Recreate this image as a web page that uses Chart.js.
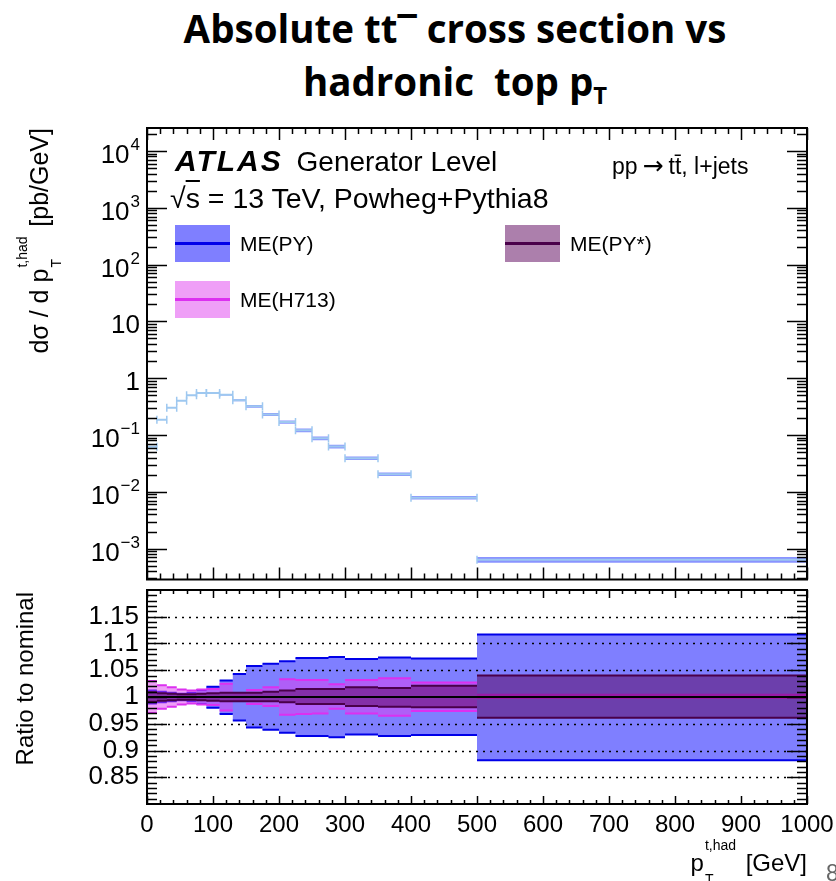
<!DOCTYPE html>
<html>
<head>
<meta charset="utf-8">
<script src="https://cdn.jsdelivr.net/npm/chart.js@4.4.0/dist/chart.umd.min.js"></script>
<style>
  html, body { margin: 0; padding: 0; background: #fff; }
  #page { position: relative; width: 836px; height: 881px; overflow: hidden;
          font-family: "Liberation Sans", Arial, sans-serif; color: #000; }
  canvas { position: absolute; left: 0; }
  .t { position: absolute; white-space: nowrap; line-height: 1; }
  .rot { transform-origin: 0 0; transform: rotate(-90deg); text-align: right; }
  #title { position: absolute; left: 0; top: 2px; width: 910px; text-align: center;
           font-family: "Open Sans", Lato, sans-serif; font-weight: 700; font-size: 38.5px; line-height: 53px; }
  #title .tsub { font-size: 0.62em; position: relative; top: 0.35em; }
  #title .mac { position: relative; top: 0.12em; }
  .ss { display: inline-block; position: relative; width: 35px; height: 25px; }
  .ss .sp { position: absolute; left: 1px; top: -8px; font-size: 14px; line-height: 1; }
  .ss .sb { position: absolute; left: 1px; top: 26px; font-size: 14px; line-height: 1; }
  .lbox { position: absolute; width: 55px; height: 37px; }
  .lbox i { position: absolute; left: 0; right: 0; top: 17px; height: 3px; }
</style>
</head>
<body>
<div id="page">
  <div id="title">Absolute tt<span class="mac">¯</span> cross section vs<br>hadronic&nbsp; top p<span class="tsub">T</span></div>

  <canvas id="top" width="836" height="585" style="top:0;width:836px;height:585px"></canvas>
  <canvas id="ratio" width="836" height="296" style="top:585px;width:836px;height:296px"></canvas>

  <div class="t" style="left:175px;top:146px;font-size:28px"><b><i style="font-size:30px;letter-spacing:2px;margin-right:6px">ATLAS</i></b> Generator Level</div>
  <div class="t" style="left:612px;top:153px;font-size:23px">pp<span style="font-family:'DejaVu Sans';font-size:25px;margin:0 5px">→</span>tt̄, l+jets</div>
  <div class="t" style="left:170px;top:184px;font-size:28.5px">√<span style="text-decoration:overline">s</span> = 13 TeV, Powheg+Pythia8</div>
  <div id="legend"></div>

  <div class="t rot" style="left:23px;top:433px;width:305px;font-size:25px">dσ / d p<span class="ss"><span class="sp">t,had</span><span class="sb">T</span></span> [pb/GeV]</div>
  <div class="t rot" style="left:13px;top:892px;width:300px;font-size:24px">Ratio to nominal</div>
  <div class="t" style="left:507px;top:846px;width:300px;text-align:right;font-size:24px">p<span class="ss"><span class="sp">t,had</span><span class="sb">T</span></span> [GeV]</div>
  <div class="t" style="left:826px;top:862px;font-size:23px;color:#666">8</div>
</div>

<script>
// ---- data ----
const binEdges = [0, 15, 30, 45, 60, 75, 90, 110, 130, 150, 175, 200, 225, 250, 275, 300, 350, 400, 500, 1000];
const xsecNominal = [0.062, 0.186, 0.30, 0.40, 0.50, 0.55, 0.55, 0.51, 0.41, 0.32, 0.23, 0.169, 0.121, 0.0875, 0.0624, 0.039, 0.0204, 0.00785, 0.00064];

// ratio to nominal, upper / lower edge of each band
const pyHigh     = [1.012, 1.010, 1.008, 1.006, 1.008, 1.013, 1.019, 1.031, 1.043, 1.058, 1.062, 1.067, 1.073, 1.073, 1.075, 1.071, 1.074, 1.072, 1.117];
const pyLow      = [0.988, 0.990, 0.992, 0.994, 0.992, 0.987, 0.980, 0.968, 0.956, 0.943, 0.939, 0.933, 0.927, 0.927, 0.925, 0.930, 0.927, 0.929, 0.882];
const h713High   = [1.030, 1.022, 1.018, 1.014, 1.012, 1.014, 1.015, 1.025, 1.007, 1.013, 1.018, 1.033, 1.032, 1.032, 1.024, 1.032, 1.035, 1.027, 1.004];
const h713Low    = [0.970, 0.978, 0.982, 0.986, 0.988, 0.986, 0.985, 0.975, 0.993, 0.987, 0.983, 0.967, 0.968, 0.969, 0.978, 0.969, 0.965, 0.974, 0.998];
const pystarHigh = [1.009, 1.007, 1.006, 1.005, 1.005, 1.006, 1.007, 1.008, 1.008, 1.008, 1.010, 1.012, 1.015, 1.015, 1.015, 1.018, 1.017, 1.021, 1.040];
const pystarLow  = [0.991, 0.993, 0.994, 0.995, 0.995, 0.994, 0.993, 0.992, 0.992, 0.992, 0.992, 0.990, 0.987, 0.987, 0.987, 0.983, 0.982, 0.981, 0.961];
const ratioNominal = [1, 1, 1, 1, 1, 1, 1, 1, 1, 1, 1, 1, 1, 1, 1, 1, 1, 1, 1];

// axis ticks
const ptTicks = [0, 100, 200, 300, 400, 500, 600, 700, 800, 900, 1000];
const xsecTicks = [1e-3, 1e-2, 1e-1, 1, 10, 1e2, 1e3, 1e4];
const xsecTickBase = ['10', '10', '10', '1', '10', '10', '10', '10'];
const xsecTickExp  = ['−3', '−2', '−1', '', '', '2', '3', '4'];
const ratioTicks = [0.85, 0.9, 0.95, 1, 1.05, 1.1, 1.15];
const ratioTickLabels = ['0.85', '0.9', '0.95', '1', '1.05', '1.1', '1.15'];
const ratioDotted = [0.85, 0.9, 0.95, 1.05, 1.1, 1.15];

const seriesNames = ['ME(PY)', 'ME(PY*)', 'ME(H713)'];
const seriesFill  = ['rgba(0,0,255,0.5)', 'rgba(90,0,90,0.5)', 'rgba(224,64,240,0.5)'];
const seriesLine  = ['#0000e8', '#4a004a', '#dc30f0'];

const FONT = '"Liberation Sans", Arial, sans-serif';

// ---- helpers ----
function stepLine(vals) {                 // connected histogram outline
  const pts = [];
  vals.forEach((v, i) => pts.push({ x: binEdges[i], y: v }, { x: binEdges[i + 1], y: v }));
  return pts;
}
function binSegments(vals) {              // one flat segment per bin, gaps between
  const pts = [];
  vals.forEach((v, i) => pts.push({ x: binEdges[i], y: v }, { x: binEdges[i + 1], y: v }, { x: binEdges[i + 1], y: null }));
  return pts;
}
function bandSets(hi, lo, fill, line, order, edges) {
  const sets = [
    { data: stepLine(hi), backgroundColor: fill, borderWidth: 0, pointRadius: 0, fill: '+1', order },
    { data: stepLine(lo), borderWidth: 0, pointRadius: 0, fill: false, order }
  ];
  if (edges) {
    sets.push({ data: binSegments(hi), borderColor: line, borderWidth: 2, pointRadius: 0, fill: false, order: order - 1 });
    sets.push({ data: binSegments(lo), borderColor: line, borderWidth: 2, pointRadius: 0, fill: false, order: order - 1 });
  }
  return sets;
}

// ROOT-like frame with inside ticks
const frameTicks = {
  id: 'frameTicks',
  afterDatasetsDraw(chart, args, o) {
    const { ctx, chartArea: a } = chart;
    const xs = chart.scales.x, ys = chart.scales.y;
    ctx.save();
    ctx.strokeStyle = '#000';
    ctx.lineWidth = 1.4;
    ctx.setLineDash([2, 5]);
    (o.dotted || []).forEach(v => {
      const py = Math.round(ys.getPixelForValue(v)) + 0.5;
      ctx.beginPath(); ctx.moveTo(a.left, py); ctx.lineTo(a.right, py); ctx.stroke();
    });
    ctx.setLineDash([]);
    ctx.lineWidth = 1.5;
    for (let v = 0; v <= 1000; v += 20) {
      const major = v % 100 === 0;
      const len = major ? o.xMaj : o.xMin;
      const px = Math.round(xs.getPixelForValue(v)) + 0.5;
      ctx.beginPath();
      ctx.moveTo(px, a.bottom); ctx.lineTo(px, a.bottom - len);
      ctx.moveTo(px, a.top); ctx.lineTo(px, a.top + len);
      ctx.stroke();
    }
    o.yTicks.forEach(t => {
      const py = Math.round(ys.getPixelForValue(t.v)) + 0.5;
      if (py < a.top + 1 || py > a.bottom - 1) return;
      const len = t.major ? o.yMaj : o.yMin;
      ctx.beginPath();
      ctx.moveTo(a.left, py); ctx.lineTo(a.left + len, py);
      ctx.moveTo(a.right, py); ctx.lineTo(a.right - len, py);
      ctx.stroke();
    });
    ctx.lineWidth = 2;
    ctx.strokeRect(a.left, a.top, a.right - a.left, a.bottom - a.top);

    if (o.logLabels) {
      ctx.fillStyle = '#000';
      ctx.textBaseline = 'alphabetic';
      xsecTicks.forEach((v, i) => {
        const py = ys.getPixelForValue(v);
        const base = xsecTickBase[i], ex = xsecTickExp[i];
        let right = a.left - 7;
        if (ex) {
          ctx.font = '17px ' + FONT;
          ctx.textAlign = 'right';
          ctx.fillText(ex, right, py - 1);
          right -= ctx.measureText(ex).width + 1;
        }
        ctx.font = '26px ' + FONT;
        ctx.textAlign = 'right';
        ctx.fillText(base, right, py + 12);
      });
    }
    ctx.restore();
  }
};

// minor/major tick lists (axis decoration only)
const logTicks = [];
for (let d = -4; d <= 4; d++) for (let k = 1; k <= 9; k++) logTicks.push({ v: k * Math.pow(10, d), major: k === 1 });
const ratioMinor = [];
for (let k = 81; k <= 119; k++) ratioMinor.push({ v: k / 100, major: k % 5 === 0 });

// ---- top panel ----
new Chart(document.getElementById('top'), {
  type: 'line',
  data: {
    datasets: [
      { data: binSegments(xsecNominal), borderColor: '#9ec8f0', borderWidth: 2,
        pointStyle: 'line', rotation: 90, pointRadius: 4, pointBorderWidth: 1.5,
        pointBorderColor: '#9ec8f0', fill: false, order: 1 },
      ...bandSets(xsecNominal.map((v, i) => v * pyHigh[i]), xsecNominal.map((v, i) => v * pyLow[i]),
                  'rgba(20,40,255,0.5)', seriesLine[0], 5, false)
    ]
  },
  options: {
    responsive: false, animation: false,
    layout: { padding: { top: 128, bottom: 4, left: 0, right: 29 } },
    plugins: {
      legend: { display: false }, tooltip: { enabled: false },
      frameTicks: { xMaj: 12, xMin: 6, yMaj: 20, yMin: 10, yTicks: logTicks, logLabels: true }
    },
    scales: {
      x: { type: 'linear', min: 0, max: 1000, display: false },
      y: { type: 'logarithmic', min: 2.86e-4, max: 2.53e4,
           afterFit(s) { s.width = 147; s.paddingTop = 0; s.paddingBottom = 0; },
           ticks: { display: false }, grid: { display: false }, border: { display: false } }
    }
  },
  plugins: [frameTicks]
});

// ---- ratio panel ----
new Chart(document.getElementById('ratio'), {
  type: 'line',
  data: {
    datasets: [
      { data: stepLine(ratioNominal), borderColor: '#000', borderWidth: 2, pointRadius: 0, fill: false, order: 1 },
      ...bandSets(pyHigh, pyLow, seriesFill[0], seriesLine[0], 30, true),
      ...bandSets(h713High, h713Low, seriesFill[2], seriesLine[2], 20, true),
      ...bandSets(pystarHigh, pystarLow, seriesFill[1], seriesLine[1], 10, true)
    ]
  },
  options: {
    responsive: false, animation: false,
    layout: { padding: { top: 5, bottom: 0, left: 0, right: 29 } },
    plugins: {
      legend: { display: false }, tooltip: { enabled: false },
      frameTicks: { xMaj: 8, xMin: 4, yMaj: 20, yMin: 10, yTicks: ratioMinor, dotted: ratioDotted }
    },
    scales: {
      x: { type: 'linear', min: 0, max: 1000,
           afterBuildTicks(s) { s.ticks = ptTicks.map(v => ({ value: v })); },
           afterFit(s) { s.height = 77; s.paddingLeft = 0; s.paddingRight = 0; },
           ticks: { callback: (v) => String(v), font: { family: FONT, size: 24 }, color: '#000', padding: 7, maxRotation: 0, autoSkip: false },
           grid: { display: false, drawTicks: false }, border: { display: false } },
      y: { min: 0.8, max: 1.2,
           afterBuildTicks(s) { s.ticks = ratioTicks.map(v => ({ value: v })); },
           afterFit(s) { s.width = 147; s.paddingTop = 0; s.paddingBottom = 0; },
           ticks: { callback: (v, i) => ratioTickLabels[i], font: { family: FONT, size: 26 }, color: '#000', padding: 8 },
           grid: { display: false, drawTicks: false }, border: { display: false } }
    }
  },
  plugins: [frameTicks]
});

// ---- legend ----
const legendPos = [{ left: 175, top: 225 }, { left: 505, top: 225 }, { left: 175, top: 281 }];
const leg = document.getElementById('legend');
seriesNames.forEach((name, i) => {
  const p = legendPos[i];
  const box = document.createElement('div');
  box.className = 'lbox';
  box.style.left = p.left + 'px'; box.style.top = p.top + 'px';
  box.style.background = seriesFill[i];
  box.innerHTML = '<i style="background:' + seriesLine[i] + '"></i>';
  leg.appendChild(box);
  const txt = document.createElement('div');
  txt.className = 't';
  txt.style.left = (p.left + 65) + 'px'; txt.style.top = (p.top + 8) + 'px';
  txt.style.fontSize = '21px';
  txt.textContent = name;
  leg.appendChild(txt);
});
</script>
</body>
</html>
